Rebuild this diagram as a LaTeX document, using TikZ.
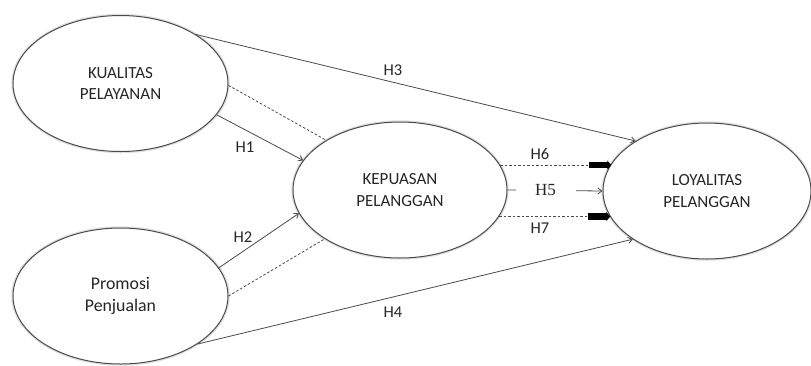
\documentclass[tikz,border=0pt]{standalone}
\usepackage{fontspec}
\setmainfont{Carlito}
\newfontfamily\serifh{Liberation Serif}
\usetikzlibrary{shapes.geometric,arrows.meta,calc}
\definecolor{ln}{HTML}{4A4A4A}
\definecolor{tx}{HTML}{262626}
\tikzset{
  var/.style={ellipse, draw=ln, line width=1pt, fill=white, inner sep=0pt,
    minimum width=215pt, minimum height=136pt, align=center, text=tx,
    font=\fontsize{17}{21.7}\selectfont,
    preaction={draw=black!12, line width=3.5pt}},
  conn/.style={draw=ln, line width=0.8pt},
  arr/.style={conn, -{Straight Barb[length=4pt,width=6pt]}},
  dsh/.style={draw=ln, line width=0.8pt, dash pattern=on 2.5pt off 2pt},
  big/.style={draw=black, line width=6.5pt, -{Triangle[length=4pt,width=9pt]}},
  hlab/.style={text=tx, font=\fontsize{16.5}{18}\selectfont, inner sep=1pt}
}
\begin{document}
\begin{tikzpicture}[x=1pt,y=-1pt]
\useasboundingbox (0,0) rectangle (811,365);
\node[var] (kq) at (120.5,83.5) {KUALITAS\\PELAYANAN};
\node[var, font=\fontsize{17.8}{22.3}\selectfont] (pp) at (120.5,296) {Promosi\\Penjualan};
\node[var, minimum width=214pt] (kp) at (400,190) {KEPUASAN\\PELANGGAN};
\node[var, minimum width=208pt] (lo) at (707,191) {LOYALITAS\\PELANGGAN};
% connectors
\draw[arr] (kq.33) -- (lo.145);
\draw[dsh] (kq.-1) -- (kp.146);
\draw[arr] (kq.-18.6) -- (kp.163);
\draw[arr] (pp.16.5) -- (kp.193.3);
\draw[dsh] (pp.0) -- (kp.213);
\draw[arr] (pp.-32) -- (lo.213);
% kepuasan -> loyalitas
\coordinate (t6) at (kp.14.3 -| lo.164.8);
\coordinate (t7) at (kp.-15 -| lo.195.5);
\coordinate (s6) at ($(t6)+(-22,0)$);
\coordinate (s7) at ($(t7)+(-22,0)$);
\draw[dsh] (kp.14.3) -- (s6);
\draw[big] (s6) -- (t6);
\draw[dsh] (kp.-15) -- (s7);
\draw[big] (s7) -- (t7);
\draw[arr] (kp.east) -- (lo.west) node[pos=0.4, fill=white, minimum width=60pt, inner sep=0pt, text=tx, font=\serifh\fontsize{17}{18}\selectfont] (h5) {H5\hspace{14pt}};
% labels
\node[hlab] (h3) at (393,70) {H3};
\node[hlab] (h1) at (245,147) {H1};
\node[hlab] (h2) at (243,237) {H2};
\node[hlab] (h4) at (393,312) {H4};
\node[hlab] (h6) at (540,154) {H6};
\node[hlab] (h7) at (540,228) {H7};
\end{tikzpicture}
\end{document}
